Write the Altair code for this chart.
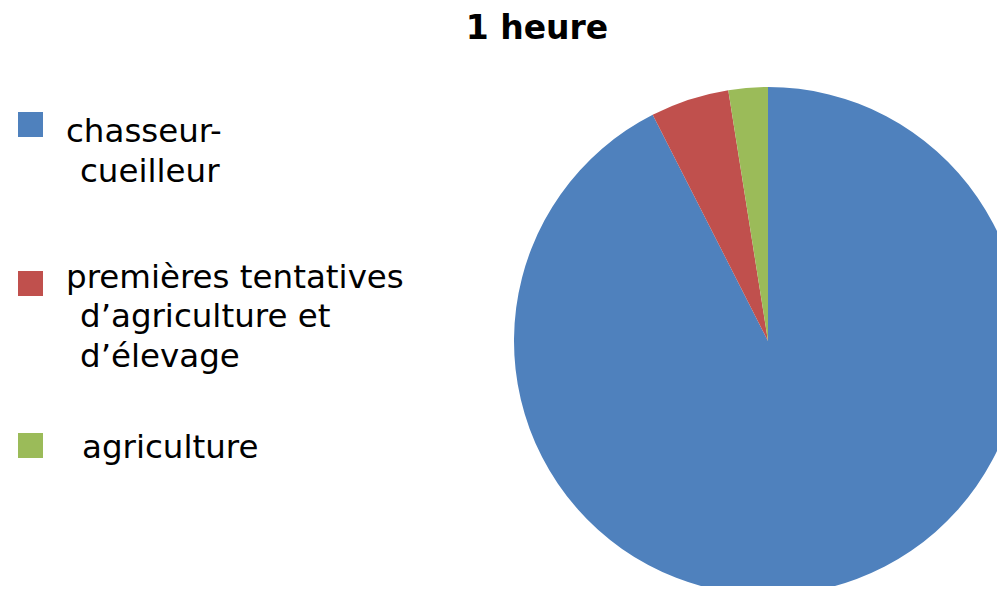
import altair as alt
import pandas as pd

# ---- data ----
title_text = "1 heure"
categories = [
    "chasseur-cueilleur",
    "premières tentatives d’agriculture et d’élevage",
    "agriculture",
]
shares = [92.5, 5.0, 2.5]
colors = ["#4F81BD", "#C0504D", "#9BBB59"]
legend_lines = [
    ["chasseur-", "cueilleur"],
    ["premières tentatives", "d’agriculture et", "d’élevage"],
    ["agriculture"],
]

# ---- layout (page pixels, converted to chart pixels) ----
M = 8  # page margin
FONT = "DejaVu Sans"
PIE_CX, PIE_CY, PIE_R = 768, 341, 254
SQ_X = 30.5
SQ_Y = [124.5, 283.5, 445.5]
LINE_POS = [
    [(66, 142), (80, 182)],
    [(66, 288), (80, 327), (80, 367)],
    [(82, 458)],
]

color_scale = alt.Scale(domain=categories, range=colors)

pie_df = pd.DataFrame({"categorie": categories, "part": shares, "ordre": list(range(len(categories)))})

pie = alt.Chart(pie_df).mark_arc(radius=PIE_R).encode(
    theta=alt.Theta("part:Q", stack=True),
    order=alt.Order("ordre:Q"),
    color=alt.Color("categorie:N", scale=color_scale, legend=None),
    x=alt.value(PIE_CX - M),
    y=alt.value(PIE_CY - M),
)

layers = [pie]

for i, cat in enumerate(categories):
    sq = alt.Chart(pd.DataFrame({"categorie": [cat]})).mark_square(
        size=625, opacity=1, filled=True
    ).encode(
        x=alt.value(SQ_X - M),
        y=alt.value(SQ_Y[i] - M),
        color=alt.Color("categorie:N", scale=color_scale, legend=None),
    )
    layers.append(sq)
    for j, line in enumerate(legend_lines[i]):
        px, py = LINE_POS[i][j]
        t = alt.Chart(pd.DataFrame({"txt": [line]})).mark_text(
            align="left", baseline="alphabetic", font=FONT, fontSize=32.5, color="black"
        ).encode(
            text="txt:N",
            x=alt.value(px - M),
            y=alt.value(py - M),
        )
        layers.append(t)

title = alt.Chart(pd.DataFrame({"txt": [title_text]})).mark_text(
    align="center", baseline="alphabetic", font=FONT, fontSize=33, fontWeight="bold", color="black"
).encode(
    text="txt:N",
    x=alt.value(537 - M),
    y=alt.value(38.8 - M),
)
layers.append(title)

chart = alt.layer(*layers).properties(
    width=989, height=578, autosize="none", padding=0
).configure_view(strokeWidth=0)

chart.save("out.html", embed_options={"renderer": "svg", "actions": False})
